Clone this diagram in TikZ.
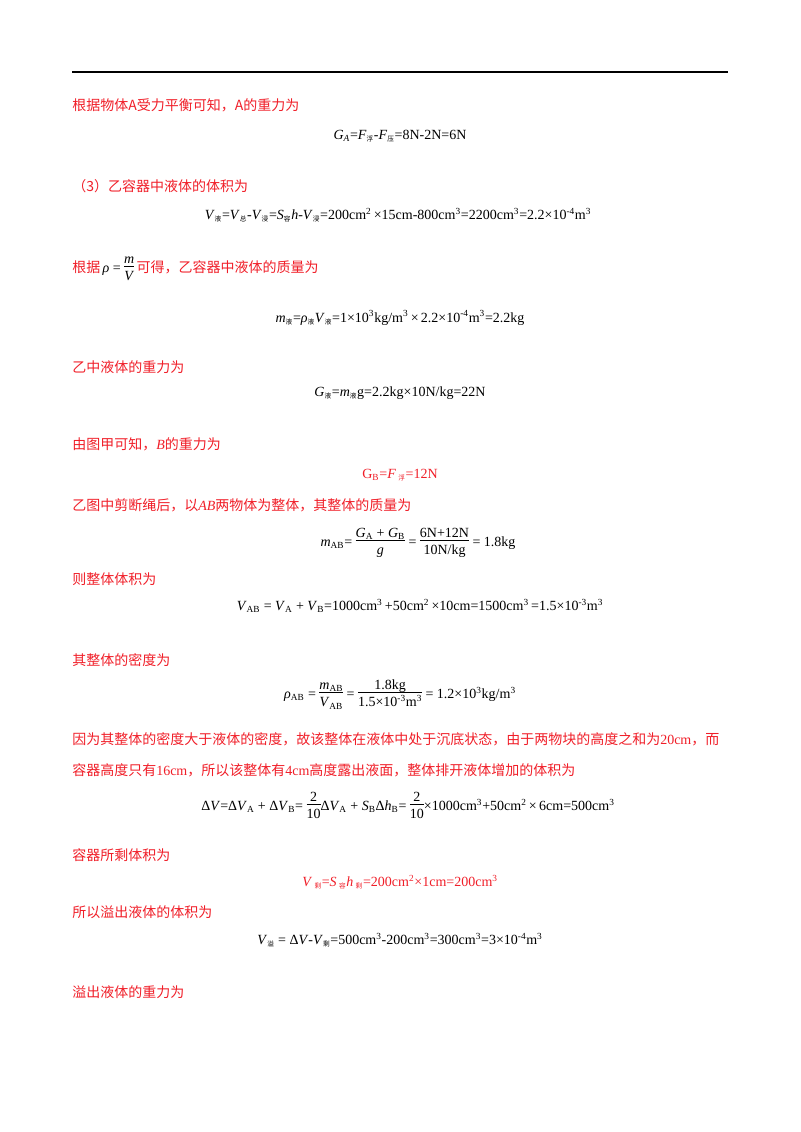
\documentclass[tikz,border=0pt]{standalone}
\usepackage{fontspec}
\setmainfont{Liberation Serif}
\newfontfamily\cjk{Noto Sans CJK SC}
\definecolor{myred}{RGB}{240,30,40}
\newcommand{\sbc}[1]{\textsubscript{\cjk\tiny #1}}
\newcommand{\sbl}[1]{\textsubscript{\scriptsize #1}}
\newcommand{\spl}[1]{\textsuperscript{\scriptsize #1}}
\newcommand{\ii}[1]{\textit{#1}}
\newcommand{\fr}[2]{\begin{tabular}{@{}c@{}}#1\\[-2pt]\hline\rule{0pt}{11pt}#2\end{tabular}}
\tikzset{txt/.style={anchor=west,inner sep=0pt,font=\cjk\fontsize{10.5}{12}\selectfont,text=myred},
eq/.style={inner sep=0pt,font=\fontsize{10.5}{12}\selectfont}}
\begin{document}
\begin{tikzpicture}[x=0.75pt,y=-0.75pt]
\useasboundingbox (0,0) rectangle (800,1132);
\draw[line width=1pt] (72,72) -- (728,72);
\node[txt] (t1) at (72,105) {根据物体A受力平衡可知，A的重力为};
\node[eq] (e1) at (400,136) {\ii{G}\sbl{\ii{A}}=\ii{F}\sbc{浮}-\ii{F}\sbc{压}=8N-2N=6N};
\node[txt] (t2) at (72,186) {（3）乙容器中液体的体积为};
\node[eq] (e2) at (398,215) {\ii{V}\sbc{液}=\ii{V}\sbc{总}-\ii{V}\sbc{浸}=\ii{S}\sbc{容}\ii{h}-\ii{V}\sbc{浸}=200cm\spl{2}\,×15cm-800cm\spl{3}=2200cm\spl{3}=2.2×10\spl{-4}m\spl{3}};
\node[txt] (t3) at (72,269) {根据\,{\rmfamily\color{black}\ii{ρ} = \fr{\ii{m}}{\ii{V}}}\,可得，乙容器中液体的质量为};
\node[eq] (e3) at (400,318) {\ii{m}\sbc{液}=\ii{ρ}\sbc{液}\ii{V}\sbc{液}=1×10\spl{3}kg/m\spl{3}\,×\,2.2×10\spl{-4}m\spl{3}=2.2kg};
\node[txt] (t4) at (72,367) {乙中液体的重力为};
\node[eq] (e4) at (400,393) {\ii{G}\sbc{液}=\ii{m}\sbc{液}g=2.2kg×10N/kg=22N};
\node[txt] (t5) at (72,444) {由图甲可知，{\rmfamily\ii{B}}的重力为};
\node[eq,text=myred] (e5) at (400,475) {G\sbl{B}=\ii{F}\,\sbc{浮}=12N};
\node[txt] (t6) at (72,505) {乙图中剪断绳后，以{\rmfamily\ii{AB}}两物体为整体，其整体的质量为};
\node[eq] (e6) at (418,543) {\ii{m}\sbl{AB}= \fr{\ii{G}\sbl{A} + \ii{G}\sbl{B}}{\ii{g}} = \fr{6N+12N}{10N/kg} = 1.8kg};
\node[txt] (t7) at (72,579) {则整体体积为};
\node[eq] (e7) at (420,606) {\ii{V}\sbl{AB} = \ii{V}\sbl{A} + \ii{V}\sbl{B}=1000cm\spl{3}\,+50cm\spl{2}\,×10cm=1500cm\spl{3}\,=1.5×10\spl{-3}m\spl{3}};
\node[txt] (t8) at (72,660) {其整体的密度为};
\node[eq] (e8) at (400,695) {\ii{ρ}\sbl{AB} = \fr{\ii{m}\sbl{AB}}{\ii{V}\sbl{AB}} = \fr{1.8kg}{1.5×10\spl{-3}m\spl{3}} = 1.2×10\spl{3}kg/m\spl{3}};
\node[txt] (t9) at (72,739) {因为其整体的密度大于液体的密度，故该整体在液体中处于沉底状态，由于两物块的高度之和为{\rmfamily 20cm}，而};
\node[txt] (t10) at (72,770) {容器高度只有{\rmfamily 16cm}，所以该整体有{\rmfamily 4cm}高度露出液面，整体排开液体增加的体积为};
\node[eq] (e9) at (408,807) {Δ\ii{V}=Δ\ii{V}\sbl{A} + Δ\ii{V}\sbl{B}= \fr{2}{10}Δ\ii{V}\sbl{A} + \ii{S}\sbl{B}Δ\ii{h}\sbl{B}= \fr{2}{10}×1000cm\spl{3}+50cm\spl{2}\,×\,6cm=500cm\spl{3}};
\node[txt] (t11) at (72,855) {容器所剩体积为};
\node[eq,text=myred] (e10) at (400,882) {\ii{V}\,\sbc{剩}=\ii{S}\,\sbc{容}\ii{h}\,\sbc{剩}=200cm\spl{2}×1cm=200cm\spl{3}};
\node[txt] (t12) at (72,912) {所以溢出液体的体积为};
\node[eq] (e11) at (400,940) {\ii{V}\sbc{溢} = Δ\ii{V}-\ii{V}\sbc{剩}=500cm\spl{3}-200cm\spl{3}=300cm\spl{3}=3×10\spl{-4}m\spl{3}};
\node[txt] (t13) at (72,992) {溢出液体的重力为};
\end{tikzpicture}
\end{document}
